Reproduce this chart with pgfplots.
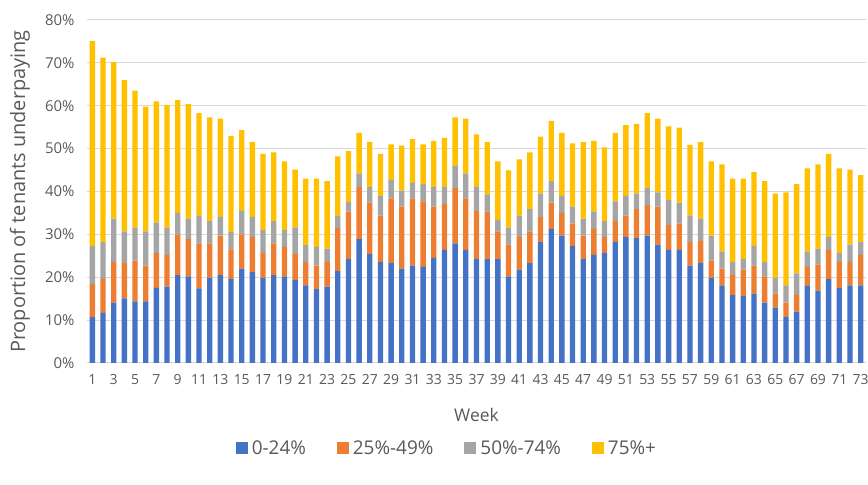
\documentclass[border=0pt]{standalone}
\usepackage{pgfplots}
\pgfplotsset{compat=1.18}
\usepackage{pgfplotstable}
\usepackage{fontspec}
\setmainfont{Open Sans}
\definecolor{cblue}{HTML}{4472C4}
\definecolor{corange}{HTML}{ED7D31}
\definecolor{cgray}{HTML}{A5A5A5}
\definecolor{cyellow}{HTML}{FFC000}
\definecolor{txt}{HTML}{595959}
\definecolor{gridc}{HTML}{D9D9D9}

\pgfplotstableread{
w b o g y
1 10.7 7.7 8.9 47.8
2 11.7 7.9 8.6 43.0
3 14.1 9.4 10.2 36.5
4 15.1 8.2 7.4 35.3
5 14.4 9.5 7.7 31.9
6 14.4 8.3 8.0 29.1
7 17.5 8.2 7.1 28.2
8 17.8 7.4 6.4 28.6
9 20.5 9.5 5.0 26.3
10 20.2 8.7 4.8 26.7
11 17.4 10.5 6.4 24.0
12 19.9 8.0 5.2 24.2
13 20.5 9.2 4.4 22.9
14 19.6 6.9 4.1 22.4
15 22.0 8.0 5.5 18.8
16 21.2 8.2 4.7 17.5
17 19.9 5.8 5.3 17.8
18 20.5 7.4 5.2 16.0
19 20.2 6.9 3.9 16.0
20 19.3 6.1 6.2 13.5
21 18.1 5.4 4.0 15.5
22 17.2 5.5 4.4 15.9
23 17.8 5.7 3.2 15.7
24 21.4 10.1 2.8 13.9
25 24.2 11.1 2.3 11.8
26 28.9 12.2 3.1 9.5
27 25.4 12.0 3.7 10.5
28 23.6 10.8 4.6 9.8
29 23.3 15.1 4.3 8.3
30 22.0 14.5 3.7 10.5
31 22.7 15.7 3.6 10.2
32 22.4 15.3 4.0 9.3
33 24.5 12.0 4.6 10.7
34 26.4 10.7 4.0 11.4
35 27.9 12.9 5.2 11.3
36 26.4 12.0 5.8 12.8
37 24.2 11.3 5.6 12.2
38 24.2 11.1 4.0 12.2
39 24.2 6.5 2.7 13.6
40 20.2 7.4 4.0 13.3
41 21.8 7.6 5.0 13.1
42 23.3 7.4 5.2 13.2
43 28.2 5.8 5.5 13.3
44 31.3 6.1 5.0 14.1
45 29.7 5.3 4.0 14.7
46 27.3 5.2 4.0 14.7
47 24.2 5.5 4.0 17.8
48 25.2 6.1 4.0 16.5
49 25.7 3.7 3.7 17.2
50 28.2 4.9 4.6 16.0
51 29.4 5.0 4.6 16.5
52 29.1 6.8 3.6 16.3
53 29.7 7.1 4.0 17.5
54 27.6 8.9 3.3 17.2
55 26.4 5.8 5.8 17.2
56 26.4 6.1 4.9 17.5
57 22.7 5.5 6.2 16.5
58 23.3 5.2 5.2 17.8
59 19.9 4.0 5.8 17.3
60 18.1 3.9 4.0 20.3
61 15.9 4.6 3.1 19.4
62 15.6 6.2 2.4 18.8
63 16.2 6.5 4.6 17.2
64 14.1 6.1 3.4 18.8
65 12.9 3.3 3.7 19.6
66 10.7 3.4 4.0 21.7
67 12.0 3.9 5.0 20.8
68 18.1 4.3 3.6 19.4
69 16.9 6.1 3.7 19.6
70 19.6 6.8 3.0 19.4
71 17.5 6.1 2.1 19.7
72 18.1 5.5 4.0 17.5
73 18.1 7.1 3.0 15.6
}\data

\pgfplotsset{
  mybar/.style={fill=#1, draw=none,
    legend image code/.code={\fill[fill=#1] (0bp,-6bp) rectangle (12bp,6bp);}},
}

\begin{document}
\begin{tikzpicture}
\begin{axis}[
  scale only axis, width=779bp, height=343bp,
  ybar stacked, bar width=0.5,
  xmin=0.5, xmax=73.5, ymin=0, ymax=80,
  xtick={1,3,...,73},
  ytick={0,10,...,80},
  yticklabels={0\%,10\%,20\%,30\%,40\%,50\%,60\%,70\%,80\%},
  ymajorgrids, grid style={gridc, line width=1bp},
  axis line style={draw=none}, major tick length=0pt,
  /pgf/number format/assume math mode=true,
  tick label style={font=\fontsize{14}{16}\selectfont, text=txt},
  yticklabel style={font=\fontsize{15}{17}\selectfont, xshift=-9bp},
  xticklabel style={yshift=-8bp},
  xlabel={Week}, ylabel={Proportion of tenants underpaying},
  label style={text=txt},
  xlabel style={font=\fontsize{17.5}{19}\selectfont, at={(axis description cs:0.5,-0.152)}, anchor=center},
  ylabel style={font=\fontsize{20}{22}\selectfont, at={(axis description cs:-0.086,0.5)}, anchor=center},
  legend columns=4,
  legend style={at={(axis description cs:0.462,-0.248)}, anchor=center, draw=none, fill=none,
    font=\fontsize{19}{21}\selectfont, text=txt,
    /tikz/every odd column/.append style={column sep=2bp},
    /tikz/every even column/.append style={column sep=29bp}},
]
\addplot[mybar=cblue] table[x=w, y=b] {\data};
\addplot[mybar=corange] table[x=w, y=o] {\data};
\addplot[mybar=cgray] table[x=w, y=g] {\data};
\addplot[mybar=cyellow] table[x=w, y=y] {\data};
\legend{0-24\%, 25\%-49\%, 50\%-74\%, 75\%+}
\end{axis}
\pgfresetboundingbox
\path ([shift={(-87bp,-122bp)}]current axis.south west) rectangle ([shift={(2bp,20bp)}]current axis.north east);
\end{tikzpicture}
\end{document}
